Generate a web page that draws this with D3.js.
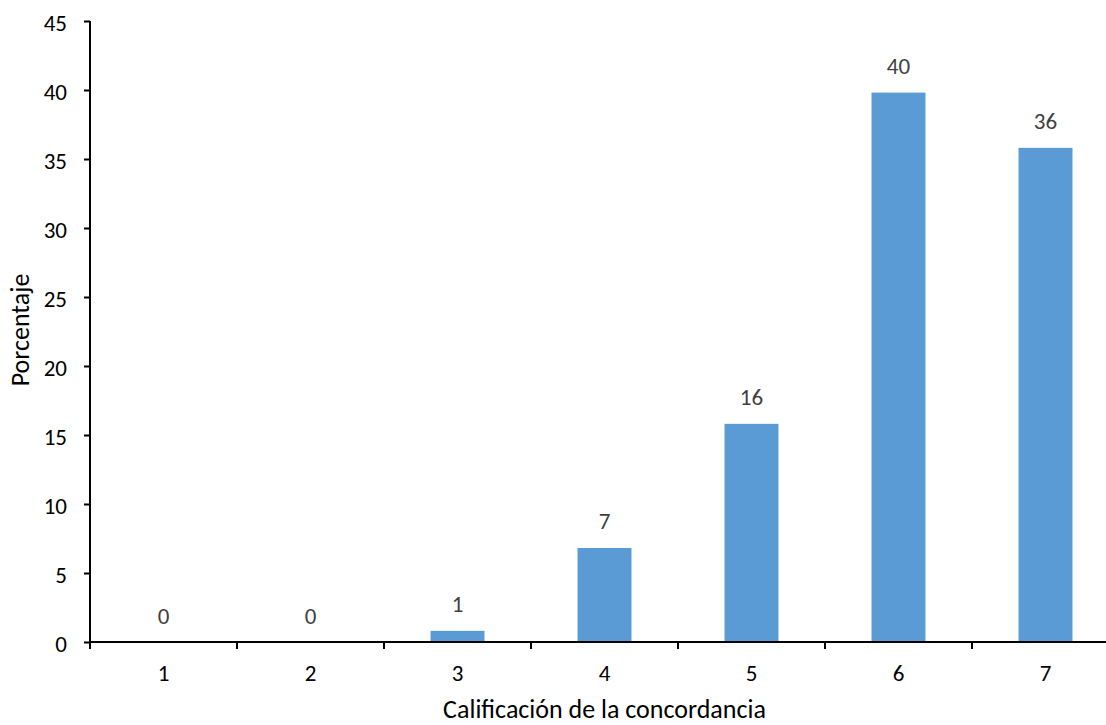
<!DOCTYPE html>
<html><head><meta charset="utf-8">
<script src="https://cdn.jsdelivr.net/npm/d3@7"></script>
<style>body{margin:0;background:#fff}svg{display:block}</style>
</head><body>
<svg id="c" width="1106" height="725"></svg>
<script>
const categories = ["1","2","3","4","5","6","7"];
const values = [0, 0, 0.85, 6.85, 15.85, 39.85, 35.85];
const yTicks = [0,5,10,15,20,25,30,35,40,45];
const xTitle = "Calificación de la concordancia";
const yTitle = "Porcentaje";

(function(){
const svg = d3.select("#c");
const font = "Calibri, Carlito, 'Open Sans', sans-serif";
const mLeft = 90, mRight = 1119, mTop = 21, mBottom = 642;
const x = d3.scaleBand().domain(categories).range([mLeft, mRight]).paddingInner(0.626).paddingOuter(0.313);
const y = d3.scaleLinear().domain([0,45]).range([mBottom, mTop]);

svg.append("g").selectAll("rect").data(values).join("rect")
  .attr("x", (d,i)=>x(categories[i]))
  .attr("width", x.bandwidth())
  .attr("y", d=>y(d))
  .attr("height", d=>y(0)-y(d))
  .attr("fill", "#5B9BD5")
  .attr("stroke", "#fff").attr("stroke-width", 1);

svg.append("g").selectAll("text").data(values).join("text")
  .attr("x", (d,i)=>x(categories[i]) + x.bandwidth()/2)
  .attr("y", d=>y(d) - 18)
  .attr("text-anchor","middle")
  .attr("font-family", font).attr("font-size", 23).attr("fill","#404040")
  .text(d=>Math.round(d));

const ya = svg.append("g").attr("transform",`translate(${mLeft},0)`)
  .call(d3.axisLeft(y).tickValues(yTicks).tickSize(6).tickPadding(17));
ya.select(".domain").attr("stroke","#000").attr("stroke-width",2).attr("d",`M0,${mTop}V${mBottom}`);
ya.selectAll(".tick line").attr("stroke","#000").attr("stroke-width",2);
ya.selectAll(".tick text").attr("font-family",font).attr("font-size",23).attr("fill","#000").attr("x",-23).attr("dy","0.4em");

const xa = svg.append("g").attr("transform",`translate(0,${mBottom})`);
xa.append("line").attr("x1",mLeft-1).attr("x2",1106).attr("y1",0).attr("y2",0).attr("stroke","#000").attr("stroke-width",2);
const bounds = categories.map(c=>x(c) - x.step()*x.paddingInner()/2);
xa.selectAll("line.t").data(bounds).join("line").attr("class","t")
  .attr("x1",d=>d).attr("x2",d=>d).attr("y1",0).attr("y2",7)
  .attr("stroke","#000").attr("stroke-width",2);
xa.selectAll("text").data(categories).join("text")
  .attr("x", c=>x(c)+x.bandwidth()/2).attr("y", 39)
  .attr("text-anchor","middle")
  .attr("font-family",font).attr("font-size",23).attr("fill","#000")
  .text(c=>c);

svg.append("text").attr("x", (mLeft+mRight)/2).attr("y", 718)
  .attr("text-anchor","middle").attr("font-family",font).attr("font-size",26).attr("fill","#000")
  .text(xTitle);
svg.append("text").attr("transform",`translate(29,330) rotate(-90)`)
  .attr("text-anchor","middle").attr("font-family",font).attr("font-size",26).attr("fill","#000")
  .text(yTitle);
})();
</script>
</body></html>
